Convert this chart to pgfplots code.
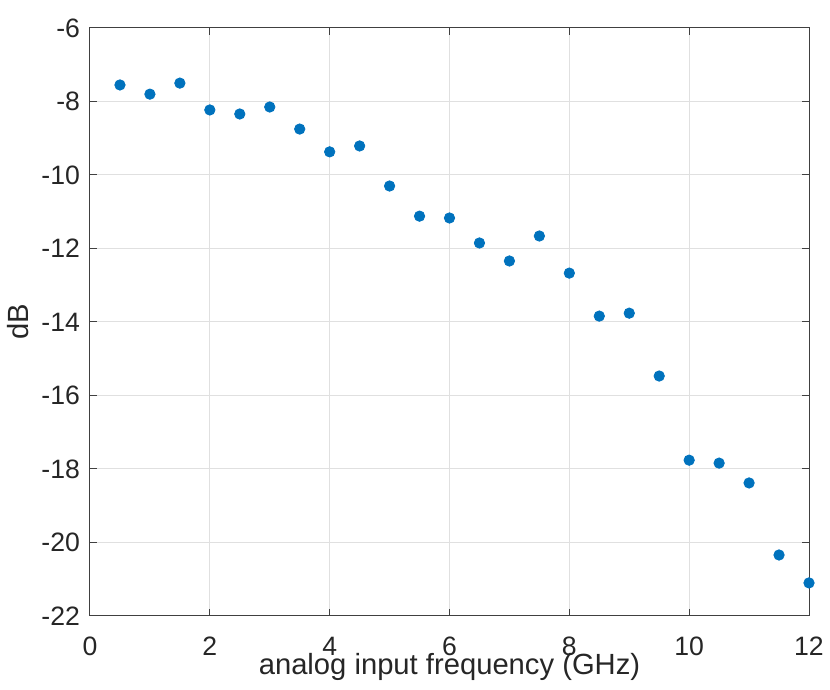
\documentclass[border=0pt]{standalone}
\usepackage{pgfplots}
\pgfplotsset{compat=1.18}
\usepackage{fontspec}
\setmainfont{Liberation Sans}
\definecolor{mblue}{RGB}{0,114,189}
\begin{document}
\begin{tikzpicture}
\begin{axis}[
  scale only axis,
  width=359.5pt, height=294pt,
  xmin=0, xmax=12, ymin=-22, ymax=-6,
  xtick={0,2,...,12}, ytick={-22,-20,...,-6},
  tick align=inside,
  major tick length=3.5pt,
  axis line style={draw=black!75, line width=0.5pt},
  every tick/.style={draw=black!75, line width=0.5pt},
  grid=major,
  major grid style={draw=black!12, line width=0.5pt},
  /pgf/number format/assume math mode=true,
  ticklabel style={font=\fontsize{13.3}{15}\selectfont, text=black!85},
  xticklabel style={yshift=-7pt},
  yticklabel style={xshift=-1.5pt},
  label style={font=\fontsize{14.6}{16}\selectfont, text=black!85},
  xlabel={analog input frequency (GHz)},
  ylabel={dB},
  xlabel style={yshift=8pt},
  ylabel style={yshift=-0.5pt},
  clip=false,
]
\addplot[only marks, mark=*, mark size=2.6pt, mark options={draw=mblue, fill=mblue}] coordinates {
(0.5,-7.55) (1,-7.80) (1.5,-7.50) (2,-8.23) (2.5,-8.34) (3,-8.15)
(3.5,-8.75) (4,-9.37) (4.5,-9.21) (5,-10.30) (5.5,-11.12) (6,-11.17)
(6.5,-11.85) (7,-12.34) (7.5,-11.66) (8,-12.67) (8.5,-13.84) (9,-13.76)
(9.5,-15.47) (10,-17.76) (10.5,-17.84) (11,-18.38) (11.5,-20.34) (12,-21.10)
};
\end{axis}
\pgfresetboundingbox
\path[use as bounding box] (current axis.south west) ++(-45pt,-37pt) rectangle ([shift={(10.5pt,14pt)}]current axis.north east);
\end{tikzpicture}
\end{document}
